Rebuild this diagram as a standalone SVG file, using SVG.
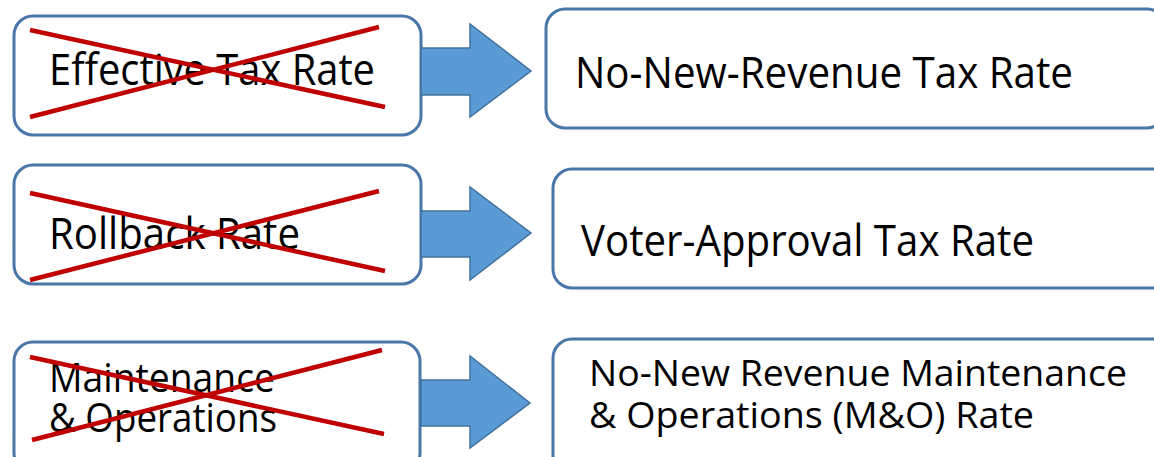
<svg xmlns="http://www.w3.org/2000/svg" width="1154" height="457" viewBox="0 0 1154 457">
<style>
.box{fill:#ffffff;stroke:#4a76a8;stroke-width:3}
.x{stroke:#c00000;stroke-width:4.5;stroke-linecap:butt}
.arrow{fill:#5b9bd5;stroke:#41719c;stroke-width:1.5}
.t{font-family:"Open Sans","Noto Sans","Liberation Sans",sans-serif;fill:#000000}
</style>
<rect width="1154" height="457" fill="#ffffff"/>
<g id="old-effective">
<rect class="box" x="14" y="16" width="407" height="119" rx="19"/>
<text class="t" x="49" y="85" font-size="44" textLength="326" lengthAdjust="spacingAndGlyphs">Effective Tax Rate</text>
<line class="x" x1="30" y1="30" x2="385" y2="107"/>
<line class="x" x1="30" y1="117" x2="379" y2="27"/>
</g>
<g id="old-rollback">
<rect class="box" x="14" y="165" width="407" height="119" rx="19"/>
<text class="t" x="49" y="249" font-size="44" textLength="251" lengthAdjust="spacingAndGlyphs">Rollback Rate</text>
<line class="x" x1="30" y1="193" x2="385" y2="271"/>
<line class="x" x1="30" y1="280" x2="379" y2="191"/>
</g>
<g id="old-mo">
<rect class="box" x="14" y="342" width="406" height="130" rx="19"/>
<text class="t" x="49" y="392" font-size="41" textLength="226" lengthAdjust="spacingAndGlyphs">Maintenance</text>
<text class="t" x="49" y="432" font-size="41" textLength="228" lengthAdjust="spacingAndGlyphs">&amp; Operations</text>
<line class="x" x1="30" y1="357" x2="384" y2="434"/>
<line class="x" x1="32" y1="440" x2="382" y2="350"/>
</g>
<g id="new-nnr">
<rect class="box" x="546" y="9" width="620" height="119" rx="19"/>
<text class="t" x="575" y="88" font-size="44" textLength="498" lengthAdjust="spacingAndGlyphs">No-New-Revenue Tax Rate</text>
</g>
<g id="new-voter">
<rect class="box" x="553" y="169" width="620" height="119" rx="19"/>
<text class="t" x="581" y="256" font-size="44" textLength="453" lengthAdjust="spacingAndGlyphs">Voter-Approval Tax Rate</text>
</g>
<g id="new-nnr-mo">
<rect class="box" x="553" y="339" width="620" height="140" rx="19"/>
<text class="t" x="589" y="386" font-size="36" textLength="538" lengthAdjust="spacingAndGlyphs">No-New Revenue Maintenance</text>
<text class="t" x="589" y="428" font-size="36" textLength="445" lengthAdjust="spacingAndGlyphs">&amp; Operations (M&amp;O) Rate</text>
</g>
<g id="connectors">
<polygon class="arrow" points="421,48 470,48 470,24 531,71 470,117 470,95 421,95"/>
<polygon class="arrow" points="421,211 470,211 470,187 531,233 470,280 470,257 421,257"/>
<polygon class="arrow" points="421,380 470,380 470,356 530,403 470,448 470,426 421,426"/>
</g>
</svg>
